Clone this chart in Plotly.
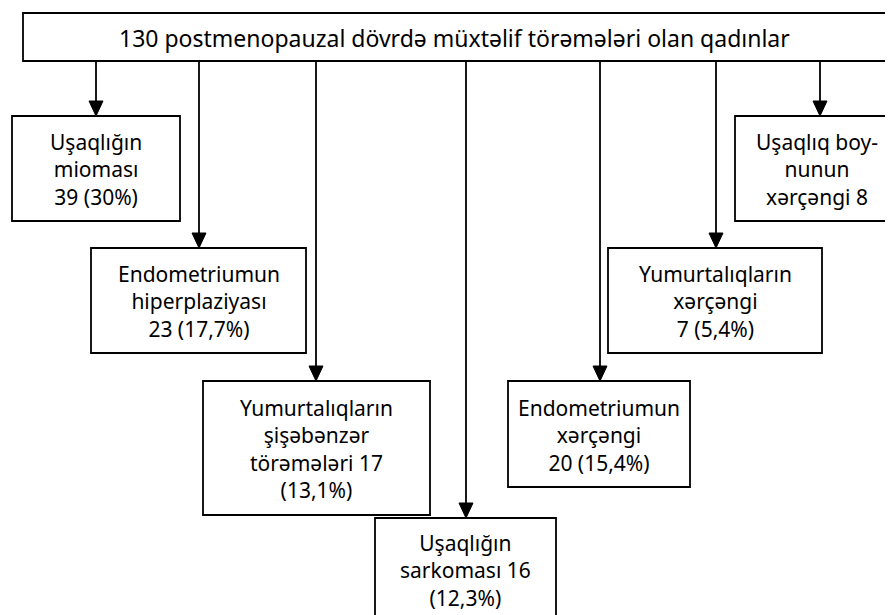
import plotly.graph_objects as go

# ---- data ----
total = 130
header = "{n} postmenopauzal dövrdə müxtəlif törəmələri olan qadınlar"
templates = [
    "Uşaqlığın<br>mioması<br>{n} ({p})",
    "Endometriumun<br>hiperplaziyası<br>{n} ({p})",
    "Yumurtalıqların<br>şişəbənzər<br>törəmələri {n}<br>({p})",
    "Uşaqlığın<br>sarkoması {n}<br>({p})",
    "Endometriumun<br>xərçəngi<br>{n} ({p})",
    "Yumurtalıqların<br>xərçəngi<br>{n} ({p})",
    "Uşaqlıq boy-<br>nunun<br>xərçəngi {n}",
]
counts = [39, 23, 17, 16, 20, 7, 8]
percents = ["30%", "17,7%", "13,1%", "12,3%", "15,4%", "5,4%", ""]

# ---- layout geometry (pixels, y downward) ----
top_box = (15, 5, 886, 53)
boxes = [
    (4, 108, 172, 213),
    (83, 240, 298, 345),
    (195, 373, 422, 507),
    (367, 510, 548, 613),
    (500, 373, 682, 479),
    (600, 240, 814, 345),
    (727, 108, 891, 213),
]
arrow_x = [88, 191, 308, 458, 592, 708, 812]

W, H = 893, 615
fig = go.Figure()
shapes = []
annotations = []
lw = 1.8
font = dict(family="Noto Sans", size=21, color="black")
hfont = dict(family="Noto Sans", size=23, color="black")

x0, y0, x1, y1 = top_box
shapes.append(dict(type="rect", x0=x0, y0=y0, x1=x1, y1=y1,
                   line=dict(color="black", width=lw), fillcolor="white", layer="above"))
annotations.append(dict(x=(x0 + x1) / 2 - 4, y=(y0 + y1) / 2 + 1, text=header.format(n=total),
                        showarrow=False, font=hfont, xanchor="center", yanchor="middle"))

for tpl, n, p, (bx0, by0, bx1, by1), ax in zip(templates, counts, percents, boxes, arrow_x):
    head = 15
    shapes.append(dict(type="line", x0=ax, y0=y1, x1=ax, y1=by0 - head + 1,
                       line=dict(color="black", width=lw)))
    shapes.append(dict(type="path",
                       path=f"M {ax-7},{by0-head} L {ax+7},{by0-head} L {ax},{by0} Z",
                       fillcolor="black", line=dict(color="black", width=1)))
    shapes.append(dict(type="rect", x0=bx0, y0=by0, x1=bx1, y1=by1,
                       line=dict(color="black", width=lw), fillcolor="white"))
    annotations.append(dict(x=(bx0 + bx1) / 2, y=(by0 + by1) / 2 + 1,
                            text=tpl.format(n=n, p=p), showarrow=False, font=font,
                            xanchor="center", yanchor="middle", align="center"))

fig.update_layout(
    width=W, height=H,
    margin=dict(l=0, r=0, t=0, b=0),
    paper_bgcolor="white", plot_bgcolor="white",
    xaxis=dict(range=[0, W], visible=False, fixedrange=True),
    yaxis=dict(range=[H, 0], visible=False, fixedrange=True),
    shapes=shapes, annotations=annotations, showlegend=False,
)
fig.write_html("out.html")
